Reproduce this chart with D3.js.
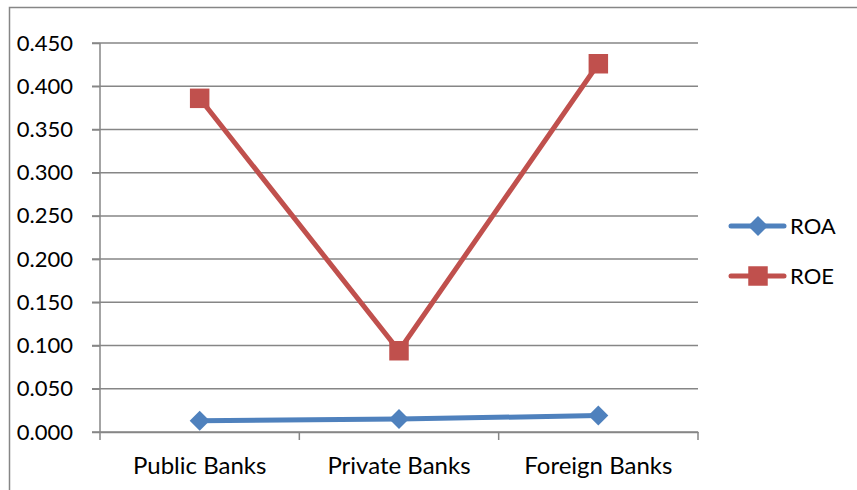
<!DOCTYPE html>
<html>
<head>
<meta charset="utf-8">
<script src="https://cdn.jsdelivr.net/npm/d3@7"></script>
<style>
  body { margin: 0; background: #fff; }
  text { font-family: Lato, "Open Sans", sans-serif; fill: #000; }
</style>
</head>
<body>
<div id="container"></div>
<script>
const categories = ['Public Banks', 'Private Banks', 'Foreign Banks'];
const roa = [0.013, 0.015, 0.019];
const roe = [0.386, 0.094, 0.426];
const yTicks = [0, 0.05, 0.1, 0.15, 0.2, 0.25, 0.3, 0.35, 0.4, 0.45];

const series = [
  { name: 'ROA', values: roa, color: '#4f81bd', shape: 'diamond' },
  { name: 'ROE', values: roe, color: '#c0504d', shape: 'square' },
];

const w = 857;
const h = 490;
const plotLeft = 100;
const plotRight = 698;
const plotTop = 43;
const plotBottom = 432;

const svg = d3
  .select('#container')
  .append('svg')
  .attr('width', w)
  .attr('height', h);

// outer chart frame (cut off on right and bottom)
svg
  .append('rect')
  .attr('x', 9.5)
  .attr('y', 7.5)
  .attr('width', 900)
  .attr('height', 600)
  .attr('fill', 'none')
  .attr('stroke', '#868686')
  .attr('stroke-width', 1.5);

const xScale = d3.scaleBand().domain(categories).range([plotLeft, plotRight]);
const yScale = d3.scaleLinear().domain([0, 0.45]).range([plotBottom, plotTop]);

// gridlines
svg
  .append('g')
  .selectAll('line')
  .data(yTicks)
  .enter()
  .append('line')
  .attr('x1', plotLeft - 8)
  .attr('x2', plotRight)
  .attr('y1', d => yScale(d))
  .attr('y2', d => yScale(d))
  .attr('stroke', '#868686')
  .attr('stroke-width', 1.5);

const yAxis = d3
  .axisLeft(yScale)
  .tickValues(yTicks)
  .tickFormat(d3.format('.3f'))
  .tickSize(8)
  .tickPadding(19);

const yG = svg
  .append('g')
  .attr('transform', `translate(${plotLeft},0)`)
  .call(yAxis);
yG.selectAll('path, line').attr('stroke', '#868686').attr('stroke-width', 1.5);
yG.select('.domain').attr('d', `M0,${plotTop}V${plotBottom}`);
yG.selectAll('text').style('font-size', '22px').attr('fill', '#000');

const xAxis = d3.axisBottom(xScale).tickSize(0).tickPadding(25);
const xG = svg
  .append('g')
  .attr('transform', `translate(0,${plotBottom})`)
  .call(xAxis);
xG.selectAll('.domain').attr('stroke', '#868686').attr('stroke-width', 1.5);
xG.selectAll('text').style('font-size', '24px').attr('fill', '#000');

// category separator ticks
const edges = [plotLeft].concat(categories.map(c => xScale(c) + xScale.bandwidth()));
xG.selectAll('.sep')
  .data(edges)
  .enter()
  .append('line')
  .attr('class', 'sep')
  .attr('x1', d => d)
  .attr('x2', d => d)
  .attr('y1', 0)
  .attr('y2', 8)
  .attr('stroke', '#868686')
  .attr('stroke-width', 1.5);

const cx = c => xScale(c) + xScale.bandwidth() / 2;

const line = d3
  .line()
  .x((d, i) => cx(categories[i]))
  .y(d => yScale(d));

const symbolFor = s =>
  s.shape === 'diamond'
    ? d3.symbol().type(d3.symbolSquare).size(200)
    : d3.symbol().type(d3.symbolSquare).size(380);

series.forEach(s => {
  svg
    .append('path')
    .datum(s.values)
    .attr('d', line)
    .attr('fill', 'none')
    .attr('stroke', s.color)
    .attr('stroke-width', 5);

  svg
    .append('g')
    .selectAll('path')
    .data(s.values)
    .enter()
    .append('path')
    .attr('d', symbolFor(s))
    .attr(
      'transform',
      (d, i) =>
        `translate(${cx(categories[i])},${yScale(d)})` +
        (s.shape === 'diamond' ? ' rotate(45)' : '')
    )
    .attr('fill', s.color);
});

// legend
const legend = svg
  .selectAll('.legend')
  .data(series)
  .enter()
  .append('g')
  .attr('class', 'legend')
  .attr('transform', (d, i) => `translate(731,${226 + i * 50})`);

legend
  .append('line')
  .attr('x1', 0)
  .attr('x2', 53)
  .attr('stroke', d => d.color)
  .attr('stroke-width', 5)
  .attr('stroke-linecap', 'round');

legend
  .append('path')
  .attr('d', d => symbolFor(d)())
  .attr('transform', d => 'translate(27,0)' + (d.shape === 'diamond' ? ' rotate(45)' : ''))
  .attr('fill', d => d.color);

legend
  .append('text')
  .attr('x', 59)
  .attr('dy', '0.35em')
  .style('font-size', '22px')
  .text(d => d.name);
</script>
</body>
</html>
